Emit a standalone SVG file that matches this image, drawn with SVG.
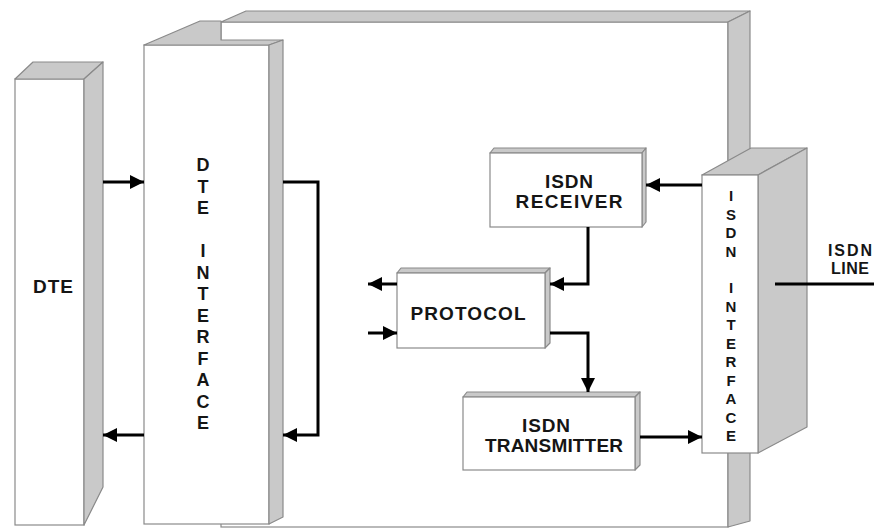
<svg xmlns="http://www.w3.org/2000/svg" width="874" height="530" viewBox="0 0 874 530">
<style>
.face{fill:#ffffff;stroke:#8a8a8a;stroke-width:1.2}
.shade{fill:#c9c9c9;stroke:#8a8a8a;stroke-width:1.2;stroke-linejoin:round}
.lbl{font-family:"Liberation Sans",Arial,sans-serif;font-weight:bold;fill:#151515;text-anchor:middle}
.big{font-size:19px}
.sm{font-size:16px}
.v1{font-size:18px}
.v2{font-size:15px}
.arr{fill:none;stroke:#000;stroke-width:3;marker-end:url(#ah)}
.ln{fill:none;stroke:#000;stroke-width:3}
</style>
<defs>
<marker id="ah" markerUnits="userSpaceOnUse" markerWidth="16" markerHeight="14" refX="14" refY="7" orient="auto">
<path d="M0,0 L14,7 L0,14 Z" fill="#000"/>
</marker>
</defs>
<rect width="874" height="530" fill="#ffffff"/>

<g id="frame">
<rect class="face" x="221" y="22" width="507" height="505"/>
<polygon class="shade" points="221,22 246,11 750,11 728,22"/>
<polygon class="shade" points="728,22 750,11 750,521 728,527"/>
</g>

<g id="dte">
<rect class="face" x="15" y="79" width="69" height="446"/>
<polygon class="shade" points="15,79 33,62 103,62 84,79"/>
<polygon class="shade" points="84,79 103,62 103,487 84,525"/>
<text class="lbl big" x="53" y="293" textLength="40" lengthAdjust="spacing">DTE</text>
</g>

<g id="dte-interface">
<rect class="face" x="144" y="45" width="125" height="479"/>
<polygon class="shade" points="144,45 200,21 221,21 221,40 283,40 269,45"/>
<polygon class="shade" points="269,45 283,40 283,517 269,524"/>
<g class="lbl v1">
<text x="203" y="171">D</text>
<text x="203" y="192.5">T</text>
<text x="203" y="214">E</text>
<text x="203" y="257">I</text>
<text x="203" y="278.5">N</text>
<text x="203" y="300">T</text>
<text x="203" y="321.5">E</text>
<text x="203" y="343">R</text>
<text x="203" y="364.5">F</text>
<text x="203" y="386">A</text>
<text x="203" y="407.5">C</text>
<text x="203" y="429">E</text>
</g>
</g>

<g id="isdn-receiver">
<polygon class="shade" points="490,153 494,148 646,148 642,153"/>
<polygon class="shade" points="642,153 646,148 646,222 642,227"/>
<rect class="face" x="490" y="153" width="152" height="74"/>
<text class="lbl big" x="569" y="188" textLength="48" lengthAdjust="spacing">ISDN</text>
<text class="lbl big" x="569" y="208" textLength="107" lengthAdjust="spacing">RECEIVER</text>
</g>

<g id="protocol">
<polygon class="shade" points="397,273 401,268 550,268 545,273"/>
<polygon class="shade" points="545,273 550,268 550,343 545,348"/>
<rect class="face" x="397" y="273" width="148" height="75"/>
<text class="lbl big" x="468" y="320" textLength="115" lengthAdjust="spacing">PROTOCOL</text>
</g>

<g id="isdn-transmitter">
<polygon class="shade" points="463,397 467,392 640,392 635,397"/>
<polygon class="shade" points="635,397 640,392 640,465 635,470"/>
<rect class="face" x="463" y="397" width="172" height="73"/>
<text class="lbl big" x="546" y="432" textLength="48" lengthAdjust="spacing">ISDN</text>
<text class="lbl big" x="554" y="452" textLength="138" lengthAdjust="spacing">TRANSMITTER</text>
</g>

<g id="isdn-interface">
<polygon class="shade" points="702,175 751,148 807,148 758,175"/>
<polygon class="shade" points="758,175 807,148 807,427 758,453"/>
<rect class="face" x="702" y="175" width="56" height="278"/>
<g class="lbl v2">
<text x="731" y="201">I</text>
<text x="731" y="219.5">S</text>
<text x="731" y="238">D</text>
<text x="731" y="256.5">N</text>
<text x="731" y="293">I</text>
<text x="731" y="311.5">N</text>
<text x="731" y="330">T</text>
<text x="731" y="348.5">E</text>
<text x="731" y="367">R</text>
<text x="731" y="385.5">F</text>
<text x="731" y="404">A</text>
<text x="731" y="422.5">C</text>
<text x="731" y="441">E</text>
</g>
</g>

<g id="isdn-line">
<text class="lbl sm" x="850" y="256" textLength="44" lengthAdjust="spacing">ISDN</text>
<text class="lbl sm" x="850" y="274" textLength="38" lengthAdjust="spacing">LINE</text>
</g>

<g id="connectors">
<path class="arr" d="M103,182 H144"/>
<path class="arr" d="M144,435 H103"/>
<path class="arr" d="M283,182 H318 V435 H283"/>
<path class="arr" d="M702,185 H646"/>
<path class="arr" d="M588,227 V284 H550"/>
<path class="arr" d="M397,284 H368"/>
<path class="arr" d="M368,333 H397"/>
<path class="arr" d="M550,333 H588 V392"/>
<path class="arr" d="M640,437 H702"/>
<path class="ln" d="M775,284 H874"/>
</g>
</svg>
